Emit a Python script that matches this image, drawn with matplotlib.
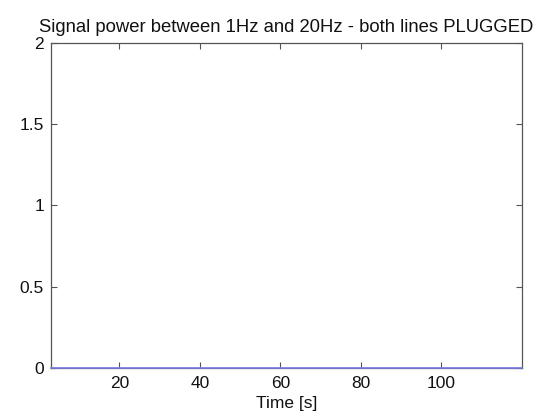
import matplotlib
matplotlib.use("Agg")
import matplotlib.pyplot as plt

# signal power (flat zero) over time
time_s = [3, 10, 20, 30, 40, 50, 60, 70, 80, 90, 100, 110, 120]
power = [0, 0, 0, 0, 0, 0, 0, 0, 0, 0, 0, 0, 0]

x_ticks = [20, 40, 60, 80, 100]
y_ticks = [0, 0.5, 1, 1.5, 2]
y_labels = ["0", "0.5", "1", "1.5", "2"]

plt.rcParams['font.family'] = ['Liberation Sans', 'DejaVu Sans']
fs = 12.5

fig = plt.figure(figsize=(5.47, 4.17), dpi=100)
ax = fig.add_axes([0.0932, 0.1175, 0.861, 0.78])

ax.plot(time_s, power, color='#7878e6', lw=1.2, clip_on=False, zorder=3)

ax.set_xlim(3, 120)
ax.set_ylim(0, 2)
ax.set_xticks(x_ticks)
ax.set_yticks(y_ticks)
ax.set_yticklabels(y_labels)
ax.tick_params(direction='in', top=True, right=True, length=4, width=0.8,
               color='#555555', labelcolor='#111111', labelsize=fs)
ax.tick_params(axis='x', pad=6)
ax.tick_params(axis='y', pad=5)
for s in ax.spines.values():
  s.set_color('#555555')
  s.set_linewidth(0.9)

ax.set_xlabel("Time [s]", fontsize=fs, labelpad=3, color='#111111')
ax.set_title("Signal power between 1Hz and 20Hz - both lines PLUGGED",
             fontsize=13.3, pad=8, color='#111111')

fig.savefig("out.png", dpi=100)
